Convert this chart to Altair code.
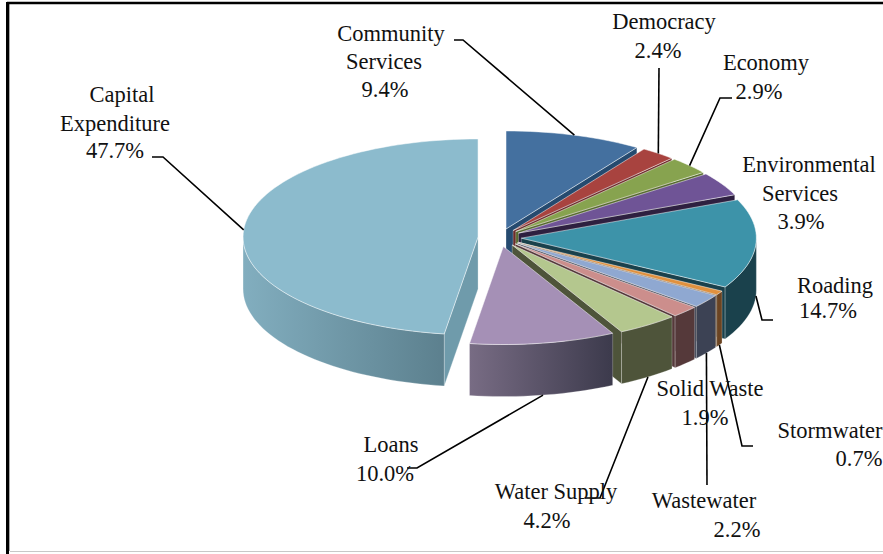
import numpy as np
import altair as alt

# Budget shares, clockwise from twelve o'clock
categories = ["Community Services", "Democracy", "Economy", "Environmental Services",
              "Roading", "Stormwater", "Wastewater", "Solid Waste", "Water Supply",
              "Loans", "Capital Expenditure"]
shares = [9.4, 2.4, 2.9, 3.9, 14.7, 0.7, 2.2, 1.9, 4.2, 10.0, 47.7]
top_colors = ["#44709f", "#a8433f", "#87a34f", "#6f5496", "#3d93a9", "#e0913f",
              "#8fa8d1", "#cc8e8c", "#b4c78e", "#a590b6", "#8cbbcd"]
wall_colors = ["#254a6f", "#6e2b2a", "#566a2f", "#2e2040", "#1a414c", "#6b4422",
               "#3c4254", "#55393a", "#4e543a", "#4d4760", "#6f9bab"]
wall_ramps = {"Loans": ("#786c84", "#3c3a4c"), "Capital Expenditure": ("#82aebf", "#5c808e")}

# Projection of the tilted pie on the page, in pixels
CX, CY = 499.7, 237.6
RX, RY = 235.0, 98.0
EXPLODE = 21.7
DEPTH = 52.0

xs = alt.Scale(domain=[0, 883], nice=False, zero=False)
ys = alt.Scale(domain=[554, 0], nice=False, zero=False)


def spot(center, deg):
    rad = np.radians(deg)
    return center[0] + RX * np.sin(rad), center[1] - RY * np.cos(rad)


def arc(center, start, end):
    count = max(2, int(abs(end - start) / 2) + 2)
    return [spot(center, d) for d in np.linspace(start, end, count)]


def face(points, fill, stroke, width=1.0, stroke_opacity=1.0):
    rows = [{"x": float(px), "y": float(py), "i": n} for n, (px, py) in enumerate(points)]
    return alt.Chart(alt.Data(values=rows)).mark_line(
        interpolate="linear-closed", fill=fill, stroke=stroke,
        strokeWidth=width, strokeOpacity=stroke_opacity,
    ).encode(
        x=alt.X("x:Q", scale=xs, axis=None),
        y=alt.Y("y:Q", scale=ys, axis=None),
        order=alt.Order("i:Q"),
    )


def drop(points):
    return [(px, py + DEPTH) for px, py in points]


def cut_wall(center, deg, fill):
    edge = [center, spot(center, deg)]
    return face(edge + drop(edge)[::-1], fill, "#ffffff", 0.8, 0.35)


anchors = {}
spans = []
running = 0.0
for name, share in zip(categories, shares):
    spans.append((name, running * 3.6, (running + share) * 3.6))
    running += share

# The large slice is painted first; the others follow clockwise so nearer ones overlap
paint_order = [len(spans) - 1] + list(range(len(spans) - 1))
faces = []
for k in paint_order:
    name, start, end = spans[k]
    mid = np.radians((start + end) / 2)
    center = (CX + EXPLODE * np.sin(mid), CY - EXPLODE * RY / RX * np.cos(mid))
    anchor = spot(center, (start + end) / 2)
    anchors[name] = (anchor[0], anchor[1] + (DEPTH if 90 < (start + end) / 2 < 270 else 0))

    if np.sin(np.radians(end)) > 1e-6:
        faces.append(cut_wall(center, end, wall_colors[k]))
    if np.sin(np.radians(start)) < -1e-6:
        faces.append(cut_wall(center, start, wall_colors[k]))

    low, high = max(start, 90.0), min(end, 270.0)
    if low < high:
        rim = arc(center, low, high)
        if name in wall_ramps:
            # Gradient offsets follow the face's bounding box, left to right
            left_tone, right_tone = wall_ramps[name]
            wall_fill = alt.Gradient(gradient="linear", x1=0, x2=1, y1=0, y2=0, stops=[
                alt.GradientStop(color=left_tone, offset=0),
                alt.GradientStop(color=right_tone, offset=1)])
        else:
            wall_fill = wall_colors[k]
        faces.append(face(rim + drop(rim)[::-1], wall_fill, "#ffffff", 0.8, 0.3))

    faces.append(face([center] + arc(center, start, end), top_colors[k], "#ffffff", 0.9, 0.55))

# Leader lines run from the rim of a slice through their elbows to the label
leader_elbows = {
    "Community Services": [(463, 40), (454, 40)],
    "Democracy": [(659, 68)],
    "Economy": [(720, 98), (732, 98)],
    "Roading": [(762, 320), (773, 320)],
    "Stormwater": [(742, 446), (753, 446)],
    "Wastewater": [(707, 485)],
    "Water Supply": [(600, 498), (585, 498)],
    "Loans": [(417, 468), (407, 468)],
    "Capital Expenditure": [(163, 157), (152, 157)],
}
leader_rows = []
for name, elbows in leader_elbows.items():
    for n, (px, py) in enumerate([anchors[name]] + elbows):
        leader_rows.append({"slice": name, "i": n, "x": float(px), "y": float(py)})
leaders = alt.Chart(alt.Data(values=leader_rows)).mark_line(
    color="#000000", strokeWidth=1.6, interpolate="linear"
).encode(
    x=alt.X("x:Q", scale=xs, axis=None),
    y=alt.Y("y:Q", scale=ys, axis=None),
    detail="slice:N",
    order=alt.Order("i:Q"),
)

# Label text, line by line
label_lines = ["Community", "Services", "9.4%", "Democracy", "2.4%", "Economy", "2.9%",
               "Environmental", "Services", "3.9%", "Roading", "14.7%", "Stormwater", "0.7%",
               "Wastewater", "2.2%", "Solid Waste", "1.9%", "Water Supply", "4.2%",
               "Loans", "10.0%", "Capital", "Expenditure", "47.7%"]
label_x = [391, 384, 385, 664, 658, 766, 759, 809, 800, 801, 835, 828, 830, 859,
           704, 737, 710, 705, 556, 547, 391, 385, 122, 115, 115]
label_y = [41, 69, 97, 29, 58, 70, 99, 172, 201, 229, 293, 318, 438, 466,
           508, 537, 396, 425, 499, 528, 452, 481, 102, 131, 158]
labels = alt.Chart(alt.Data(values=[
    {"t": t, "x": px, "y": py} for t, px, py in zip(label_lines, label_x, label_y)
])).mark_text(
    font="Liberation Serif", fontSize=22.5, align="center", baseline="alphabetic", color="#111111"
).encode(
    x=alt.X("x:Q", scale=xs, axis=None),
    y=alt.Y("y:Q", scale=ys, axis=None),
    text="t:N",
)


def frame_line(x0, y0, x1, y1, color, width):
    return alt.Chart(alt.Data(values=[{"x": x0, "y": y0, "x2": x1, "y2": y1}])).mark_rule(
        color=color, strokeWidth=width
    ).encode(
        x=alt.X("x:Q", scale=xs, axis=None),
        y=alt.Y("y:Q", scale=ys, axis=None),
        x2="x2:Q",
        y2="y2:Q",
    )


frame = [
    frame_line(9.5, 3, 9.5, 551, "#a8a8a8", 1),
    frame_line(7.5, 2, 7.5, 554, "#000000", 3),
    frame_line(7, 3, 883, 3, "#000000", 2.5),
    frame_line(10, 551.5, 883, 551.5, "#c8c8c8", 1),
]

chart = alt.layer(*frame, *faces, leaders, labels).properties(
    width=883, height=554, padding=0, autosize=alt.AutoSizeParams(type="none"),
    background="#ffffff",
).configure_view(stroke=None)

chart.save("out.html", embed_options={"renderer": "svg", "actions": False})
